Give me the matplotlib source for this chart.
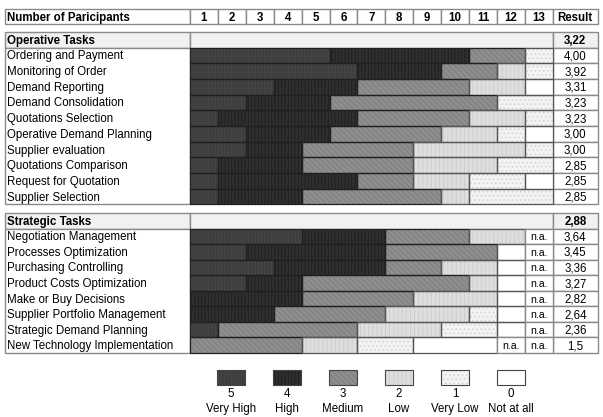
import numpy as np
import matplotlib.pyplot as plt
from matplotlib.patches import Rectangle

plt.rcParams['font.family'] = ['Liberation Sans', 'DejaVu Sans']
plt.rcParams['hatch.linewidth'] = 0.6

participants = [str(i) for i in range(1, 14)]

level_values = [5, 4, 3, 2, 1, 0]
level_names = ['Very High', 'High', 'Medium', 'Low', 'Very Low', 'Not at all']

# how many participants gave each level (5,4,3,2,1,0), then n.a.
operative_tasks = ['Ordering and Payment', 'Monitoring of Order', 'Demand Reporting',
                   'Demand Consolidation', 'Quotations Selection', 'Operative Demand Planning',
                   'Supplier evaluation', 'Quotations Comparison', 'Request for Quotation',
                   'Supplier Selection']
operative_counts = [[5, 5, 2, 0, 1, 0],
                    [6, 3, 2, 1, 1, 0],
                    [3, 3, 4, 2, 0, 1],
                    [2, 3, 6, 0, 2, 0],
                    [1, 5, 4, 2, 1, 0],
                    [2, 3, 4, 2, 1, 1],
                    [2, 2, 4, 4, 1, 0],
                    [1, 3, 4, 3, 2, 0],
                    [1, 5, 2, 2, 2, 1],
                    [1, 3, 5, 1, 3, 0]]
operative_na = [0] * 10
operative_results = ['4,00', '3,92', '3,31', '3,23', '3,23', '3,00', '3,00', '2,85', '2,85', '2,85']
operative_total = '3,22'

strategic_tasks = ['Negotiation Management', 'Processes Optimization', 'Purchasing Controlling',
                   'Product Costs Optimization', 'Make or Buy Decisions',
                   'Supplier Portfolio Management', 'Strategic Demand Planning',
                   'New Technology Implementation']
strategic_counts = [[4, 3, 3, 2, 0, 0],
                    [2, 5, 4, 0, 0, 1],
                    [3, 4, 2, 2, 0, 1],
                    [2, 2, 6, 1, 0, 1],
                    [0, 4, 4, 3, 0, 1],
                    [0, 3, 4, 3, 1, 1],
                    [1, 0, 5, 3, 2, 1],
                    [0, 0, 4, 2, 2, 3]]
strategic_na = [1, 1, 1, 1, 1, 1, 1, 2]
strategic_results = ['3,64', '3,45', '3,36', '3,27', '2,82', '2,64', '2,36', '1,5']
strategic_total = '2,88'

# fill, hatch pattern, hatch colour per level
styles = {5: ('#3e3e3e', '|||||', '#484848'),
          4: ('#2f2f2f', '|||||', '#1e1e1e'),
          3: ('#8e8e8e', '\\\\\\\\\\\\', '#7c7c7c'),
          2: ('#dedede', '||||', '#cbcbcb'),
          1: ('#f3f3f3', '....', '#d2d2d2'),
          0: ('#ffffff', '', '#ffffff')}

fig = plt.figure(figsize=(6.03, 4.17), dpi=100)
ax = fig.add_axes([0, 0, 1, 1])
ax.set_xlim(0, 603)
ax.set_ylim(417, 0)
ax.axis('off')

x_lab, x0, cw = 5, 190, 27.9
x_res = x0 + 13 * cw
x_end = 598
grid = '#8a8a8a'
fs = 8.3
cap = 4.1  # half cap height, puts the baseline so caps sit centred in a row


def cell(x, y, w, h, fc='white', ec=grid, lw=1.0, z=1):
    ax.add_patch(Rectangle((x, y), w, h, facecolor=fc, edgecolor=ec, lw=lw, zorder=z))


def txt(x, ymid, s, **kw):
    ax.text(x, ymid + cap, s, fontsize=kw.pop('fontsize', fs), va='baseline', **kw)


# header row
y, h = 9.3, 15
cell(x_lab, y, x0 - x_lab, h)
txt(x_lab + 2, y + h / 2, 'Number of Paricipants', fontweight='bold')
for i, p in enumerate(participants):
    cell(x0 + i * cw, y, cw, h)
    txt(x0 + (i + 0.5) * cw, y + h / 2, p, fontweight='bold', ha='center')
cell(x_res, y, x_end - x_res, h)
txt((x_res + x_end) / 2, y + h / 2, 'Result', fontweight='bold', ha='center')


def section(top, title, total, tasks, counts, na, results, rh):
    hh = 15.2
    cell(x_lab, top, x0 - x_lab, hh, fc='#f1f1f1')
    cell(x0, top, x_res - x0, hh, fc='#f1f1f1')
    cell(x_res, top, x_end - x_res, hh, fc='#f1f1f1')
    txt(x_lab + 2, top + hh / 2, title, fontweight='bold')
    txt((x_res + x_end) / 2, top + hh / 2, total, fontweight='bold', ha='center')
    y = top + hh
    cell(x_lab, y, x0 - x_lab, rh * len(tasks))
    for task, row, n_na, res in zip(tasks, counts, na, results):
        txt(x_lab + 2, y + rh / 2, task)
        left = x0
        for lv, n in zip(level_values, row):
            if n == 0:
                continue
            fc, hatch, hc = styles[lv]
            ax.add_patch(Rectangle((left, y), n * cw, rh, facecolor=fc, hatch=hatch,
                                   edgecolor=hc, lw=0, zorder=2))
            ax.add_patch(Rectangle((left, y), n * cw, rh, fill=False,
                                   edgecolor='#202020' if lv >= 3 else '#555555', lw=0.9, zorder=3))
            left += n * cw
        for k in range(n_na):
            cell(left, y, cw, rh, z=3)
            txt(left + cw / 2, y + rh / 2, 'n.a.', fontsize=fs - 0.7, ha='center', zorder=4)
            left += cw
        cell(x_res, y, x_end - x_res, rh)
        txt((x_res + x_end) / 2, y + rh / 2, res, ha='center')
        y += rh


section(32.3, 'Operative Tasks', operative_total, operative_tasks, operative_counts,
        operative_na, operative_results, 15.68)
section(213.3, 'Strategic Tasks', strategic_total, strategic_tasks, strategic_counts,
        strategic_na, strategic_results, 15.55)

# legend
for i, (lv, name) in enumerate(zip(level_values, level_names)):
    cx = 231 + i * 56
    fc, hatch, hc = styles[lv]
    ax.add_patch(Rectangle((cx - 14, 370), 28, 15, facecolor=fc, hatch=hatch, edgecolor=hc, lw=0))
    ax.add_patch(Rectangle((cx - 14, 370), 28, 15, fill=False, edgecolor='#444444', lw=0.8))
    txt(cx, 393, str(lv), ha='center')
    txt(cx, 408, name, ha='center')

fig.savefig('out.png', dpi=100)
